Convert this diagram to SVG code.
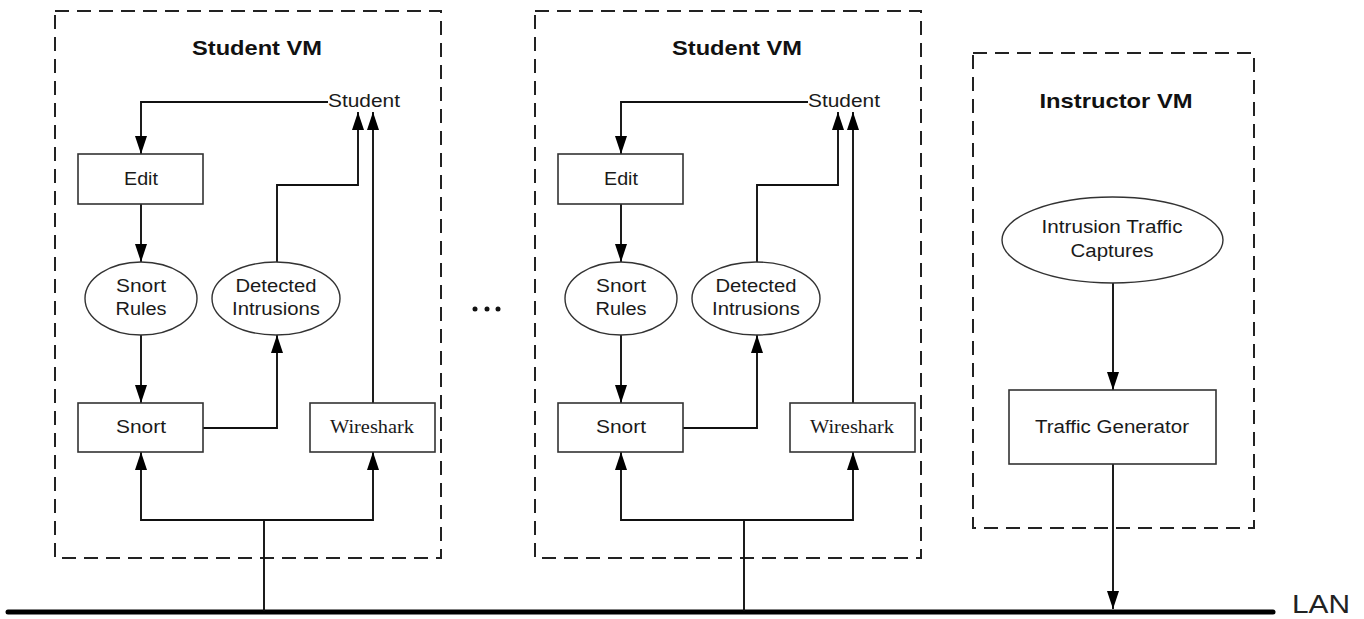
<svg xmlns="http://www.w3.org/2000/svg" width="1364" height="619" viewBox="0 0 1364 619">
<style>
.vm{fill:none;stroke:#222;stroke-width:2;stroke-dasharray:14 8}
.box{fill:#fff;stroke:#333;stroke-width:1.6}
.ell{fill:#fff;stroke:#333;stroke-width:1.4}
.t{font-family:"Liberation Sans",Arial,sans-serif;font-size:18px;fill:#1a1a1a;text-anchor:middle}
.ts{font-family:"Liberation Serif","Times New Roman",serif;font-size:18.5px;fill:#1a1a1a;text-anchor:middle}
.title{font-family:"Liberation Sans",Arial,sans-serif;font-size:21px;font-weight:bold;fill:#111;text-anchor:middle}
.c{fill:none;stroke:#111;stroke-width:1.9}
</style>
<defs>
<marker id="ah" markerUnits="userSpaceOnUse" markerWidth="18" markerHeight="14" refX="18" refY="7" orient="auto">
<path d="M0,1 L18,7 L0,13 Z" fill="#000"/>
</marker>
</defs>
<rect x="0" y="0" width="1364" height="619" fill="#fff"/>

<!-- VM containers -->
<g id="student-vm-1">
<rect class="vm" x="55" y="11" width="386" height="547"/>
<text class="title" x="257" y="55" textLength="130" lengthAdjust="spacingAndGlyphs">Student VM</text>
</g>
<g id="student-vm-2">
<rect class="vm" x="535" y="11" width="386" height="547"/>
<text class="title" x="737" y="55" textLength="130" lengthAdjust="spacingAndGlyphs">Student VM</text>
</g>
<g id="instructor-vm">
<rect class="vm" x="973" y="53" width="281" height="475"/>
<text class="title" x="1116" y="108" textLength="153" lengthAdjust="spacingAndGlyphs">Instructor VM</text>
</g>

<!-- LAN -->
<g id="lan">
<line x1="8" y1="612" x2="1273" y2="612" stroke="#000" stroke-width="5" stroke-linecap="round"/>
<text x="1292" y="613" font-family="'Liberation Sans',Arial,sans-serif" font-size="25" fill="#222" textLength="58" lengthAdjust="spacingAndGlyphs">LAN</text>
</g>

<!-- Connectors -->
<g id="connectors">
<path class="c" d="M328 102 H141 V154" marker-end="url(#ah)"/>
<path class="c" d="M141 204 V262" marker-end="url(#ah)"/>
<path class="c" d="M141 335 V403" marker-end="url(#ah)"/>
<path class="c" d="M203 428 H277 V335" marker-end="url(#ah)"/>
<path class="c" d="M277 262 V185 H358 V112" marker-end="url(#ah)"/>
<path class="c" d="M373 403 V112" marker-end="url(#ah)"/>
<path class="c" d="M264 611 V520 H141 V452" marker-end="url(#ah)"/>
<path class="c" d="M264 520 H373 V452" marker-end="url(#ah)"/>

<path class="c" d="M808 102 H621 V154" marker-end="url(#ah)"/>
<path class="c" d="M621 204 V262" marker-end="url(#ah)"/>
<path class="c" d="M621 335 V403" marker-end="url(#ah)"/>
<path class="c" d="M683 428 H757 V335" marker-end="url(#ah)"/>
<path class="c" d="M757 262 V185 H838 V112" marker-end="url(#ah)"/>
<path class="c" d="M853 403 V112" marker-end="url(#ah)"/>
<path class="c" d="M744 611 V520 H621 V452" marker-end="url(#ah)"/>
<path class="c" d="M744 520 H853 V452" marker-end="url(#ah)"/>

<path class="c" d="M1113 283 V390" marker-end="url(#ah)"/>
<path class="c" d="M1113 464 V609" marker-end="url(#ah)"/>
</g>

<!-- Student VM 1 nodes -->
<g id="student-1"><text class="t" x="328" y="107" style="text-anchor:start" textLength="72" lengthAdjust="spacingAndGlyphs">Student</text></g>
<g id="edit-1"><rect class="box" x="78" y="154" width="125" height="50"/><text class="t" x="141" y="185" textLength="34" lengthAdjust="spacingAndGlyphs">Edit</text></g>
<g id="snort-rules-1"><ellipse class="ell" cx="141" cy="298.5" rx="56" ry="36.5"/><text class="t" x="141" y="292" textLength="50" lengthAdjust="spacingAndGlyphs">Snort</text><text class="t" x="141" y="315" textLength="51" lengthAdjust="spacingAndGlyphs">Rules</text></g>
<g id="detected-1"><ellipse class="ell" cx="276" cy="298.5" rx="64" ry="36.5"/><text class="t" x="276" y="292" textLength="81" lengthAdjust="spacingAndGlyphs">Detected</text><text class="t" x="276" y="315" textLength="88" lengthAdjust="spacingAndGlyphs">Intrusions</text></g>
<g id="snort-1"><rect class="box" x="78" y="403" width="125" height="49"/><text class="t" x="141" y="433" textLength="50" lengthAdjust="spacingAndGlyphs">Snort</text></g>
<g id="wireshark-1"><rect class="box" x="310" y="403" width="125" height="49"/><text class="ts" x="372" y="433" textLength="84" lengthAdjust="spacingAndGlyphs">Wireshark</text></g>

<!-- Student VM 2 nodes -->
<g id="student-2"><text class="t" x="808" y="107" style="text-anchor:start" textLength="72" lengthAdjust="spacingAndGlyphs">Student</text></g>
<g id="edit-2"><rect class="box" x="558" y="154" width="125" height="50"/><text class="t" x="621" y="185" textLength="34" lengthAdjust="spacingAndGlyphs">Edit</text></g>
<g id="snort-rules-2"><ellipse class="ell" cx="621" cy="298.5" rx="56" ry="36.5"/><text class="t" x="621" y="292" textLength="50" lengthAdjust="spacingAndGlyphs">Snort</text><text class="t" x="621" y="315" textLength="51" lengthAdjust="spacingAndGlyphs">Rules</text></g>
<g id="detected-2"><ellipse class="ell" cx="756" cy="298.5" rx="64" ry="36.5"/><text class="t" x="756" y="292" textLength="81" lengthAdjust="spacingAndGlyphs">Detected</text><text class="t" x="756" y="315" textLength="88" lengthAdjust="spacingAndGlyphs">Intrusions</text></g>
<g id="snort-2"><rect class="box" x="558" y="403" width="125" height="49"/><text class="t" x="621" y="433" textLength="50" lengthAdjust="spacingAndGlyphs">Snort</text></g>
<g id="wireshark-2"><rect class="box" x="790" y="403" width="125" height="49"/><text class="ts" x="852" y="433" textLength="84" lengthAdjust="spacingAndGlyphs">Wireshark</text></g>

<!-- Instructor nodes -->
<g id="captures"><ellipse class="ell" cx="1112.5" cy="240" rx="110.5" ry="43"/><text class="t" x="1112" y="233" textLength="141" lengthAdjust="spacingAndGlyphs">Intrusion Traffic</text><text class="t" x="1112" y="257" textLength="83" lengthAdjust="spacingAndGlyphs">Captures</text></g>
<g id="traffic-generator"><rect class="box" x="1009" y="390" width="207" height="74"/><text class="t" x="1112" y="433" textLength="154" lengthAdjust="spacingAndGlyphs">Traffic Generator</text></g>

<!-- Ellipsis -->
<g id="ellipsis" fill="#111"><circle cx="475" cy="309" r="2.5"/><circle cx="487" cy="309" r="2.5"/><circle cx="498" cy="309" r="2.5"/></g>
</svg>
